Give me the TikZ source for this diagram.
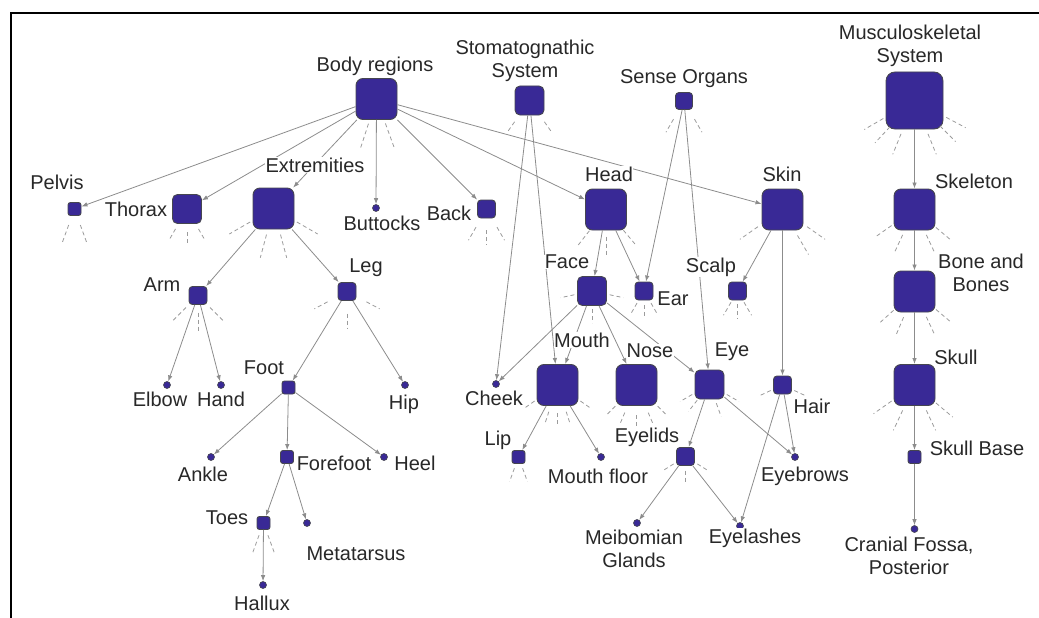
\documentclass[tikz,border=0pt]{standalone}
\usepackage{fontspec}
\setmainfont{Liberation Sans}
\usepackage{tikz}
\usetikzlibrary{arrows.meta}
\definecolor{AzulNodo}{RGB}{57,41,150}
\definecolor{BordeNodo}{RGB}{70,70,80}
\definecolor{GrisArista}{RGB}{140,140,140}
\definecolor{GrisTrazo}{RGB}{155,155,155}
\definecolor{GrisTexto}{RGB}{40,40,40}

\begin{document}
\begin{tikzpicture}[x=1pt,y=1pt,>={Latex[length=6pt,width=4.5pt]},
  caja/.style={draw=BordeNodo,fill=AzulNodo,line width=0.9pt,inner sep=0pt},
  cajaXL/.style={caja,minimum size=57pt,rounded corners=9pt},
  cajaL/.style={caja,minimum size=41pt,rounded corners=7pt},
  cajaM/.style={caja,minimum size=29pt,rounded corners=5pt},
  cajaS/.style={caja,minimum size=18pt,rounded corners=3.5pt},
  cajaXS/.style={caja,minimum size=13pt,rounded corners=2.5pt},
  punto/.style={circle,draw=BordeNodo,fill=AzulNodo,line width=0.6pt,inner sep=0pt,minimum size=7pt},
  arista/.style={->,GrisArista,line width=0.8pt},
  trazo/.style={GrisTrazo,line width=0.8pt,dash pattern=on 4pt off 3pt},
  rotulo/.style={fill=white,text=GrisTexto,inner sep=0.5pt,align=center,
    font=\fontsize{20}{23}\selectfont}]
  \useasboundingbox (0,0) rectangle (1039,-618);
  \draw[line width=2pt] (11,-618) -- (11,-13) -- (1039,-13);

  \node[cajaL] (cuerpo) at (376.5,-99) {};
  \node[cajaM] (estoma) at (529.5,-100.5) {};
  \node[cajaS,minimum size=17pt] (sentidos) at (684,-101) {};
  \node[cajaXL] (musculo) at (914.5,-100.5) {};
  \node[cajaXS] (pelvis) at (74.5,-209) {};
  \node[cajaM] (torax) at (187,-209) {};
  \node[cajaL] (extrem) at (273.5,-208.5) {};
  \node[punto] (nalgas) at (376,-208) {};
  \node[cajaS] (espalda) at (486.5,-209) {};
  \node[cajaL] (cabeza) at (606,-209.5) {};
  \node[cajaL] (piel) at (782.5,-209.5) {};
  \node[cajaL] (esqueleto) at (914.5,-209.5) {};
  \node[cajaL] (huesos) at (914.5,-291.5) {};
  \node[cajaM] (cara) at (592,-291) {};
  \node[cajaS] (oreja) at (644,-291) {};
  \node[cajaS] (cuero) at (737.5,-291) {};
  \node[cajaS] (brazo) at (198,-295.5) {};
  \node[cajaS] (pierna) at (347,-291.5) {};
  \node[punto] (codo) at (167,-385) {};
  \node[punto] (mano) at (221,-385) {};
  \node[cajaXS] (pie) at (288.5,-387.5) {};
  \node[punto] (cadera) at (405,-385) {};
  \node[punto] (tobillo) at (211,-457) {};
  \node[cajaXS] (antepie) at (287,-457) {};
  \node[punto] (talon) at (384,-457) {};
  \node[cajaXS] (dedos) at (263.5,-523) {};
  \node[punto] (metatarso) at (307,-523) {};
  \node[punto] (halux) at (263,-585) {};
  \node[punto] (mejilla) at (496,-384) {};
  \node[cajaL] (boca) at (557.5,-385) {};
  \node[cajaL] (nariz) at (636.5,-385) {};
  \node[cajaM] (ojo) at (709.5,-384.5) {};
  \node[cajaS] (pelo) at (782.5,-385) {};
  \node[cajaL] (craneo) at (914.5,-385) {};
  \node[cajaXS] (labio) at (518.5,-457) {};
  \node[punto] (suelo) at (601,-457) {};
  \node[cajaS] (parpados) at (685.5,-456.5) {};
  \node[punto] (cejas) at (795,-457) {};
  \node[cajaXS] (base) at (914.5,-457) {};
  \node[punto] (pestanas) at (740,-526) {};
  \node[punto] (meibomio) at (637,-523) {};
  \node[punto] (fosa) at (914.5,-529) {};

  \foreach \a in {252,290} \draw[trazo] (cuerpo.center) ++(\a:26) -- ++(\a:25);
  \foreach \a in {235,305} \draw[trazo] (estoma.center) ++(\a:26) -- ++(\a:12);
  \foreach \a in {240,300} \draw[trazo] (sentidos.center) ++(\a:21) -- ++(\a:15);
  \foreach \a in {210,227,248,292,315,332} \draw[trazo] (musculo.center) ++(\a:36) -- ++(\a:22);
  \foreach \a in {250,290} \draw[trazo] (pelvis.center) ++(\a:17) -- ++(\a:19);
  \foreach \a in {240,270,300} \draw[trazo] (torax.center) ++(\a:23) -- ++(\a:12);
  \foreach \a in {210,255,285,330} \draw[trazo] (extrem.center) ++(\a:27) -- ++(\a:24);
  \foreach \a in {240,270,300} \draw[trazo] (espalda.center) ++(\a:21) -- ++(\a:15);
  \foreach \a in {232,270,310} \draw[trazo] (cabeza.center) ++(\a:27) -- ++(\a:20);
  \foreach \a in {215,300,325} \draw[trazo] (piel.center) ++(\a:30) -- ++(\a:22);
  \foreach \a in {215,245,295,320} \draw[trazo] (esqueleto.center) ++(\a:28) -- ++(\a:20);
  \foreach \a in {222,247,295,320} \draw[trazo] (huesos.center) ++(\a:28) -- ++(\a:20);
  \foreach \a in {215,245,295,320} \draw[trazo] (craneo.center) ++(\a:28) -- ++(\a:22);
  \foreach \a in {192,270,348} \draw[trazo] (cara.center) ++(\a:18) -- ++(\a:14);
  \foreach \a in {240,270,300} \draw[trazo] (oreja.center) ++(\a:14) -- ++(\a:11);
  \foreach \a in {240,270,300} \draw[trazo] (cuero.center) ++(\a:13) -- ++(\a:15);
  \foreach \a in {225,270,315} \draw[trazo] (brazo.center) ++(\a:17) -- ++(\a:18);
  \foreach \a in {208,270,332} \draw[trazo] (pierna.center) ++(\a:22) -- ++(\a:15);
  \foreach \a in {250,290} \draw[trazo] (dedos.center) ++(\a:13) -- ++(\a:19);
  \foreach \a in {215,252,270,288,325} \draw[trazo] (boca.center) ++(\a:28) -- ++(\a:13);
  \foreach \a in {225,247,270,293,315} \draw[trazo] (nariz.center) ++(\a:30) -- ++(\a:13);
  \foreach \a in {210,232,290,330} \draw[trazo] (ojo.center) ++(\a:20) -- ++(\a:14);
  \foreach \a in {205,335} \draw[trazo] (pelo.center) ++(\a:13) -- ++(\a:13);
  \foreach \a in {250,290} \draw[trazo] (labio.center) ++(\a:12) -- ++(\a:14);
  \foreach \a in {212,270,328} \draw[trazo] (parpados.center) ++(\a:14) -- ++(\a:12);

  \draw[arista] (cuerpo) -- (pelvis);
  \draw[arista] (cuerpo) -- (torax);
  \draw[arista] (cuerpo) -- (extrem);
  \draw[arista] (cuerpo) -- (nalgas);
  \draw[arista] (cuerpo) -- (espalda);
  \draw[arista] (cuerpo) -- (cabeza);
  \draw[arista] (cuerpo) -- (piel);
  \draw[arista] (extrem) -- (brazo);
  \draw[arista] (extrem) -- (pierna);
  \draw[arista] (brazo) -- (codo);
  \draw[arista] (brazo) -- (mano);
  \draw[arista] (pierna) -- (pie);
  \draw[arista] (pierna) -- (cadera);
  \draw[arista] (pie) -- (tobillo);
  \draw[arista] (pie) -- (antepie);
  \draw[arista] (pie) -- (talon);
  \draw[arista] (antepie) -- (dedos);
  \draw[arista] (antepie) -- (metatarso);
  \draw[arista] (dedos) -- (halux);
  \draw[arista] (estoma) -- (mejilla);
  \draw[arista] (estoma) -- (boca);
  \draw[arista] (sentidos) -- (oreja);
  \draw[arista] (sentidos) -- (ojo);
  \draw[arista] (cabeza) -- (cara);
  \draw[arista] (cabeza) -- (oreja);
  \draw[arista] (cara) -- (mejilla);
  \draw[arista] (cara) -- (boca);
  \draw[arista] (cara) -- (nariz);
  \draw[arista] (cara) -- (ojo);
  \draw[arista] (piel) -- (cuero);
  \draw[arista] (piel) -- (pelo);
  \draw[arista] (boca) -- (labio);
  \draw[arista] (boca) -- (suelo);
  \draw[arista] (ojo) -- (parpados);
  \draw[arista] (ojo) -- (cejas);
  \draw[arista] (parpados) -- (meibomio);
  \draw[arista] (parpados) -- (pestanas);
  \draw[arista] (pelo) -- (cejas);
  \draw[arista] (pelo) -- (pestanas);
  \draw[arista] (musculo) -- (esqueleto);
  \draw[arista] (esqueleto) -- (huesos);
  \draw[arista] (huesos) -- (craneo);
  \draw[arista] (craneo) -- (base);
  \draw[arista] (base) -- (fosa);

  \node[rotulo] (tCuerpo) at (375,-66) {Body regions};
  \node[rotulo] (tEstoma) at (525,-61) {Stomatognathic\\System};
  \node[rotulo] (tSentidos) at (684,-79) {Sense Organs};
  \node[rotulo] (tMusculo) at (910,-46) {Musculoskeletal\\System};
  \node[rotulo] (tPelvis) at (57,-182) {Pelvis};
  \node[rotulo] (tTorax) at (136,-209) {Thorax};
  \node[rotulo] (tExtrem) at (315,-165) {Extremities};
  \node[rotulo] (tNalgas) at (382,-223) {Buttocks};
  \node[rotulo] (tEspalda) at (449,-213) {Back};
  \node[rotulo] (tCabeza) at (609,-174) {Head};
  \node[rotulo] (tPiel) at (782,-174) {Skin};
  \node[rotulo] (tEsqueleto) at (974,-181) {Skeleton};
  \node[rotulo] (tCara) at (567,-262) {Face};
  \node[rotulo] (tOreja) at (673,-299) {Ear};
  \node[rotulo] (tCuero) at (711,-267) {Scalp};
  \node[rotulo] (tHuesos) at (981,-273) {Bone and\\Bones};
  \node[rotulo] (tBrazo) at (162,-285) {Arm};
  \node[rotulo] (tPierna) at (366,-268) {Leg};
  \node[rotulo] (tBoca) at (582,-340) {Mouth};
  \node[rotulo] (tNariz) at (650,-351) {Nose};
  \node[rotulo] (tOjo) at (732,-352) {Eye};
  \node[rotulo] (tCraneo) at (956,-357) {Skull};
  \node[rotulo] (tPie) at (264,-368) {Foot};
  \node[rotulo] (tMejilla) at (494,-398) {Cheek};
  \node[rotulo] (tCodo) at (160,-399) {Elbow};
  \node[rotulo] (tMano) at (221,-399) {Hand};
  \node[rotulo] (tCadera) at (404,-404) {Hip};
  \node[rotulo] (tPelo) at (812,-406) {Hair};
  \node[rotulo] (tLabio) at (498,-440) {Lip};
  \node[rotulo] (tParpados) at (647,-437) {Eyelids};
  \node[rotulo] (tBase) at (977,-448) {Skull Base};
  \node[rotulo] (tAntepie) at (334,-463) {Forefoot};
  \node[rotulo] (tTalon) at (415,-463) {Heel};
  \node[rotulo] (tTobillo) at (203,-474) {Ankle};
  \node[rotulo] (tSuelo) at (598,-476) {Mouth floor};
  \node[rotulo] (tCejas) at (805,-476) {Eyebrows};
  \node[rotulo] (tDedos) at (227,-518) {Toes};
  \node[rotulo] (tMeibomio) at (634,-549) {Meibomian\\Glands};
  \node[rotulo] (tPestanas) at (755,-538) {Eyelashes};
  \node[rotulo] (tFosa) at (909,-556) {Cranial Fossa,\\Posterior};
  \node[rotulo] (tMetatarso) at (356,-554) {Metatarsus};
  \node[rotulo] (tHalux) at (262,-603) {Hallux};
\end{tikzpicture}
\end{document}
